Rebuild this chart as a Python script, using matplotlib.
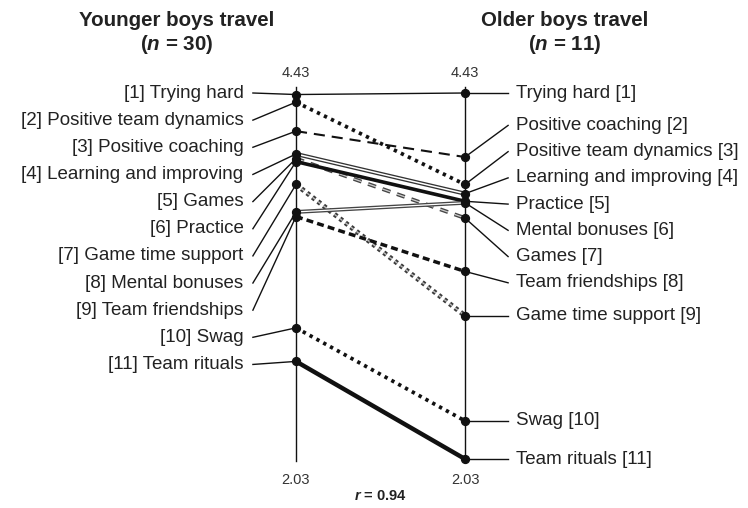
import numpy as np
import matplotlib
matplotlib.use('Agg')
from matplotlib import pyplot as plt

plt.rcParams['font.family'] = ['Liberation Sans', 'DejaVu Sans']
plt.rcParams['mathtext.fontset'] = 'custom'
plt.rcParams['mathtext.it'] = 'Liberation Sans:italic:bold'
plt.rcParams['lines.scale_dashes'] = False

# mean ratings
left_names = ['Trying hard', 'Positive team dynamics', 'Positive coaching',
              'Learning and improving', 'Games', 'Practice', 'Game time support',
              'Mental bonuses', 'Team friendships', 'Swag', 'Team rituals']
left_vals = [4.42, 4.37, 4.18, 4.03, 4.00, 3.98, 3.83, 3.65, 3.62, 2.89, 2.67]

right_names = ['Trying hard', 'Positive coaching', 'Positive team dynamics',
               'Learning and improving', 'Practice', 'Mental bonuses', 'Games',
               'Team friendships', 'Game time support', 'Swag', 'Team rituals']
right_vals = [4.43, 4.01, 3.83, 3.77, 3.72, 3.71, 3.61, 3.26, 2.97, 2.28, 2.03]

y_min, y_max = 2.03, 4.43
r_value = 0.94
titles = ['Younger boys travel', 'Older boys travel']
n_sizes = [30, 11]

# line look for each concept: list of (linewidth, colour, dashes) drawn in order
K = '#111111'
styles = {
    'Trying hard': [(1.0, K, None)],
    'Positive team dynamics': [(2.7, K, (0, (2.4, 3.2)))],
    'Positive coaching': [(1.5, K, (0, (8, 5)))],
    'Learning and improving': [(3.0, '#333333', None), (1.1, 'white', None)],
    'Games': [(2.8, '#444444', (0, (6, 5))), (0.9, '#cccccc', (0, (6, 5)))],
    'Practice': [(2.6, K, None)],
    'Game time support': [(3.6, '#3a3a3a', (0, (2.4, 2.6))), (1.0, '#bbbbbb', (0, (2.4, 2.6)))],
    'Mental bonuses': [(2.8, '#444444', None), (0.9, 'white', None)],
    'Team friendships': [(2.5, K, (0, (5, 3)))],
    'Swag': [(2.7, K, (0, (2.4, 3.2)))],
    'Team rituals': [(3.2, K, None)],
}


def spread(vals, gap, lo, hi):
    pos = np.array(vals, dtype=float)
    for _ in range(2000):
        for i in range(len(pos) - 1):
            d = pos[i] - pos[i + 1]
            if d < gap:
                push = (gap - d) / 2
                pos[i] += push
                pos[i + 1] -= push
        pos = np.clip(pos, lo, hi)
    return pos


fig = plt.figure(figsize=(7.48, 5.08), dpi=100)
ax = fig.add_axes([296 / 748, 49 / 508, 169 / 748, 366 / 508])
ax.set_xlim(0, 1)
ax.set_ylim(y_min, y_max)
ax.axis('off')

# vertical axes
for x in (0, 1):
    ax.plot([x, x], [y_min - 0.01, y_max + 0.04], color=K, lw=1.0, clip_on=False)
    ax.text(x, y_max + 0.13, f'{y_max:.2f}', ha='center', va='center', fontsize=10.5, color='#333333')
    ax.text(x, y_min - 0.135, f'{y_min:.2f}', ha='center', va='center', fontsize=10.5, color='#333333')

# connecting lines
for name in left_names:
    yl = left_vals[left_names.index(name)]
    yr = right_vals[right_names.index(name)]
    for lw, col, ls in styles[name]:
        ax.plot([0, 1], [yl, yr], color=col, lw=lw, linestyle=ls if ls else '-',
                solid_capstyle='butt', clip_on=False, zorder=2)

ax.scatter([0] * len(left_vals), left_vals, s=32, color=K, zorder=4, clip_on=False)
ax.scatter([1] * len(right_vals), right_vals, s=32, color=K, zorder=4, clip_on=False)

# labels
left_pos = spread(left_vals, 0.178, 2.0, y_max)
for i, (name, v, p) in enumerate(zip(left_names, left_vals, left_pos)):
    ax.plot([-0.255, 0], [p, v], color=K, lw=1.0, clip_on=False)
    ax.text(-0.31, p, f'[{i + 1}] {name}', ha='right', va='center', fontsize=13.5, color='#222222')

right_pos = spread(right_vals, 0.172, y_min, y_max)
for i, (name, v, p) in enumerate(zip(right_names, right_vals, right_pos)):
    ax.plot([1, 1.255], [v, p], color=K, lw=1.0, clip_on=False)
    ax.text(1.3, p, f'{name} [{i + 1}]', ha='left', va='center', fontsize=13.5, color='#222222')

# titles
for cx, t, n in zip([177 / 748, 565 / 748], titles, n_sizes):
    fig.text(cx, 1 - 20 / 508, t, ha='center', va='center', fontsize=14.8,
             fontweight='bold', color='#222222')
    fig.text(cx, 1 - 45 / 508, f'($\\it{{n}}$ = {n})', ha='center', va='center',
             fontsize=14.8, fontweight='bold', color='#222222')

fig.text(380 / 748, 1 - 496 / 508, f'$\\it{{r}}$ = {r_value:.2f}', ha='center', va='center',
         fontsize=10.5, fontweight='bold', color='#222222')

fig.savefig('out.png', dpi=100)
